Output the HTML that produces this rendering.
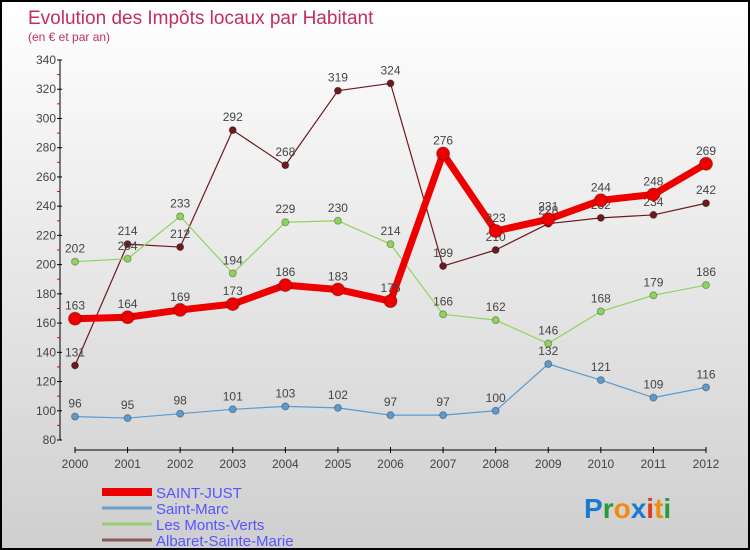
<!DOCTYPE html>
<html><head><meta charset="utf-8"><style>
html,body{margin:0;padding:0}
body{width:750px;height:550px;overflow:hidden;font-family:"Liberation Sans",sans-serif}
#wrap{position:relative;width:746px;height:546px;border:2px solid #000;background:linear-gradient(#ffffff,#cfcfcf)}
</style></head><body>
<div id="wrap">
<svg id="chart" width="746" height="546" style="position:absolute;left:0;top:0"></svg>
</div>
<script>
const years=[2000,2001,2002,2003,2004,2005,2006,2007,2008,2009,2010,2011,2012];
const saintJust=[163,164,169,173,186,183,175,276,223,231,244,248,269];
const saintMarc=[96,95,98,101,103,102,97,97,100,132,121,109,116];
const montsVerts=[202,204,233,194,229,230,214,166,162,146,168,179,186];
const albaret=[131,214,212,292,268,319,324,199,210,228,232,234,242];
const yTicks=[80,100,120,140,160,180,200,220,240,260,280,300,320,340];
const seriesNames=['SAINT-JUST','Saint-Marc','Les Monts-Verts','Albaret-Sainte-Marie'];
const O=-2;
const x=i=>75+O+i*(706-75)/(years.length-1);
const y=v=>440+O-(v-80)*(380/260);
const svg=document.getElementById('chart');
const NS='http://www.w3.org/2000/svg';
function mk(t,a){const e=document.createElementNS(NS,t);for(const k in a)e.setAttribute(k,a[k]);svg.appendChild(e);return e;}
let t=mk('text',{x:26,y:22,'font-size':19,fill:'#c0305a'});t.textContent='Evolution des Impôts locaux par Habitant';

t=mk('text',{x:26,y:39,'font-size':12,fill:'#c0305a'});t.textContent='(en € et par an)';

// axes
let a=mk('line',{x1:60+O,y1:y(340),x2:60+O,y2:y(80),stroke:'#000','stroke-width':1});

a=mk('line',{x1:x(0),y1:450+O,x2:x(12),y2:450+O,stroke:'#000','stroke-width':1});

yTicks.forEach((v,i)=>{
 mk('line',{x1:57+O,y1:y(v),x2:62+O,y2:y(v),stroke:'#000'});
 if(i<yTicks.length-1)mk('line',{x1:57+O,y1:y(v+10),x2:60+O,y2:y(v+10),stroke:'#e00'});
 const l=mk('text',{x:56+O,y:y(v)+4,'font-size':12,fill:'#444','text-anchor':'end'});l.textContent=v;
 
});
years.forEach((yr,i)=>{
 mk('line',{x1:x(i),y1:447+O,x2:x(i),y2:453+O,stroke:'#000'});
 const l=mk('text',{x:x(i),y:468+O,'font-size':12,fill:'#444','text-anchor':'middle'});l.textContent=yr;
 
});
function series(data,color,w,r,name,lblColor){
 const g=document.createElementNS(NS,'g');svg.appendChild(g);
 
 const p=document.createElementNS(NS,'polyline');
 p.setAttribute('points',data.map((v,i)=>x(i)+','+y(v)).join(' '));
 p.setAttribute('fill','none');p.setAttribute('stroke',color);p.setAttribute('stroke-width',w);p.setAttribute('stroke-linejoin','round');
 g.appendChild(p);
 data.forEach((v,i)=>{
  const c=document.createElementNS(NS,'circle');c.setAttribute('cx',x(i));c.setAttribute('cy',y(v));c.setAttribute('r',r);c.setAttribute('fill',color);
  c.setAttribute('stroke','rgba(0,0,0,0.3)');
  
  g.appendChild(c);
  const l=document.createElementNS(NS,'text');l.setAttribute('x',x(i));l.setAttribute('y',y(v)-9);l.setAttribute('font-size',12);l.setAttribute('fill','#444');l.setAttribute('text-anchor','middle');
  l.textContent=v;g.appendChild(l);
 });
}
series(albaret,'#6b1a1e',1.2,3.5,'albaret-series');
series(montsVerts,'#8fd45a',1.2,3.5,'monts-verts-series');
series(saintMarc,'#5a9bd0',1.2,3.5,'saint-marc-series');
series(saintJust,'#ee0000',7,6.5,'saint-just-series');
// legend
const lc=['#ee0000','#6aa0cc','#98d070','#8a5a5a'],lw=[8,3,3,3];
seriesNames.forEach((n,i)=>{
 const yy=492+O+i*16;
 const ln=mk('line',{x1:100,y1:yy,x2:150,y2:yy,stroke:lc[i],'stroke-width':lw[i]});
 
 const tx=mk('text',{x:154,y:yy+6,'font-size':15,fill:'#5555ff'});tx.textContent=n;
 
});
const lg=mk('text',{x:582,y:516,'font-size':28,'font-weight':'bold'});

[['P','#1a7ad0'],['r','#2a9a3a'],['o','#f08a10'],['x','#1a7ad0'],['i','#e03a20'],['t','#f08a10'],['i','#2a9a3a']].forEach(([c,f])=>{
 const s=document.createElementNS(NS,'tspan');s.setAttribute('fill',f);s.textContent=c;lg.appendChild(s);});
</script>
</body></html>
